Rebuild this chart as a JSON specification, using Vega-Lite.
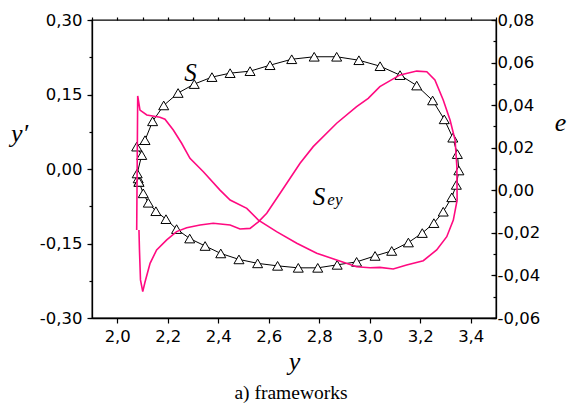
{
  "$schema": "https://vega.github.io/schema/vega-lite/v6.json",
  "width": 404,
  "height": 298,
  "autosize": "none",
  "padding": {"left": 92, "top": 20, "right": 73, "bottom": 88},
  "background": "white",
  "title": {"text": "a) frameworks", "orient": "bottom", "anchor": "middle", "font": "Liberation Serif", "fontSize": 19.5, "fontWeight": "normal", "color": "black", "offset": 10, "dx": -3},
  "config": {
    "view": {"stroke": "black", "strokeWidth": 1.3},
    "axis": {"grid": false, "domainColor": "black", "tickColor": "black", "labelColor": "black", "titleColor": "black", "labelFont": "DejaVu Sans", "labelFontSize": 16.5, "tickWidth": 1.2, "domainWidth": 1.3, "labelFlush": false, "labelOverlap": false, "titleFont": "Liberation Serif", "titleFontStyle": "italic", "titleFontWeight": "normal", "titleFontSize": 26}
  },
  "datasets": {
    "S": [
      {"i": 1, "x": 2.086, "y": -0.026}, {"i": 2, "x": 2.083, "y": -0.019}, {"i": 3, "x": 2.079, "y": -0.009},
      {"i": 4, "x": 2.097, "y": 0.028}, {"i": 5, "x": 2.077, "y": 0.045}, {"i": 6, "x": 2.110, "y": 0.058},
      {"i": 7, "x": 2.140, "y": 0.096}, {"i": 8, "x": 2.184, "y": 0.128}, {"i": 9, "x": 2.241, "y": 0.153},
      {"i": 10, "x": 2.305, "y": 0.171}, {"i": 11, "x": 2.375, "y": 0.185}, {"i": 12, "x": 2.447, "y": 0.193},
      {"i": 13, "x": 2.526, "y": 0.197}, {"i": 14, "x": 2.605, "y": 0.209}, {"i": 15, "x": 2.691, "y": 0.221},
      {"i": 16, "x": 2.780, "y": 0.226}, {"i": 17, "x": 2.869, "y": 0.226}, {"i": 18, "x": 2.957, "y": 0.219},
      {"i": 19, "x": 3.041, "y": 0.207}, {"i": 20, "x": 3.120, "y": 0.189}, {"i": 21, "x": 3.186, "y": 0.168},
      {"i": 22, "x": 3.249, "y": 0.138}, {"i": 23, "x": 3.295, "y": 0.100}, {"i": 24, "x": 3.329, "y": 0.063},
      {"i": 25, "x": 3.347, "y": 0.030}, {"i": 26, "x": 3.353, "y": -0.003}, {"i": 27, "x": 3.343, "y": -0.032},
      {"i": 28, "x": 3.325, "y": -0.057}, {"i": 29, "x": 3.291, "y": -0.086}, {"i": 30, "x": 3.254, "y": -0.109},
      {"i": 31, "x": 3.208, "y": -0.129}, {"i": 32, "x": 3.153, "y": -0.148}, {"i": 33, "x": 3.087, "y": -0.165},
      {"i": 34, "x": 3.021, "y": -0.175}, {"i": 35, "x": 2.948, "y": -0.187}, {"i": 36, "x": 2.871, "y": -0.193},
      {"i": 37, "x": 2.794, "y": -0.199}, {"i": 38, "x": 2.717, "y": -0.199}, {"i": 39, "x": 2.635, "y": -0.195},
      {"i": 40, "x": 2.556, "y": -0.190}, {"i": 41, "x": 2.482, "y": -0.182}, {"i": 42, "x": 2.410, "y": -0.170},
      {"i": 43, "x": 2.348, "y": -0.155}, {"i": 44, "x": 2.287, "y": -0.140}, {"i": 45, "x": 2.235, "y": -0.121},
      {"i": 46, "x": 2.193, "y": -0.101}, {"i": 47, "x": 2.153, "y": -0.085}, {"i": 48, "x": 2.123, "y": -0.068},
      {"i": 49, "x": 2.103, "y": -0.049}, {"i": 50, "x": 2.086, "y": -0.026}
    ],
    "E": [
      {"i": 1, "x": 2.077, "e": -0.0187}, {"i": 2, "x": 2.081, "e": 0.0443}, {"i": 3, "x": 2.090, "e": 0.0377},
      {"i": 4, "x": 2.117, "e": 0.0354}, {"i": 5, "x": 2.169, "e": 0.0343}, {"i": 6, "x": 2.189, "e": 0.0334},
      {"i": 7, "x": 2.222, "e": 0.0283}, {"i": 8, "x": 2.255, "e": 0.0221}, {"i": 9, "x": 2.288, "e": 0.0150},
      {"i": 10, "x": 2.341, "e": 0.0087}, {"i": 11, "x": 2.407, "e": 0.0001}, {"i": 12, "x": 2.447, "e": -0.0046},
      {"i": 13, "x": 2.513, "e": -0.0085}, {"i": 14, "x": 2.559, "e": -0.0140}, {"i": 15, "x": 2.631, "e": -0.0194},
      {"i": 16, "x": 2.711, "e": -0.0249}, {"i": 17, "x": 2.790, "e": -0.0296}, {"i": 18, "x": 2.869, "e": -0.0327},
      {"i": 19, "x": 2.948, "e": -0.0359}, {"i": 20, "x": 3.001, "e": -0.0364}, {"i": 21, "x": 3.040, "e": -0.0362},
      {"i": 22, "x": 3.093, "e": -0.0370}, {"i": 23, "x": 3.146, "e": -0.0351}, {"i": 24, "x": 3.212, "e": -0.0331},
      {"i": 25, "x": 3.265, "e": -0.0280}, {"i": 26, "x": 3.305, "e": -0.0218}, {"i": 27, "x": 3.331, "e": -0.0140},
      {"i": 28, "x": 3.346, "e": -0.0046}, {"i": 29, "x": 3.345, "e": 0.0111}, {"i": 30, "x": 3.338, "e": 0.0236},
      {"i": 31, "x": 3.318, "e": 0.0330}, {"i": 32, "x": 3.291, "e": 0.0424}, {"i": 33, "x": 3.258, "e": 0.0518},
      {"i": 34, "x": 3.226, "e": 0.0557}, {"i": 35, "x": 3.186, "e": 0.0560}, {"i": 36, "x": 3.120, "e": 0.0542},
      {"i": 37, "x": 3.040, "e": 0.0487}, {"i": 38, "x": 2.994, "e": 0.0432}, {"i": 39, "x": 2.948, "e": 0.0393},
      {"i": 40, "x": 2.869, "e": 0.0315}, {"i": 41, "x": 2.776, "e": 0.0205}, {"i": 42, "x": 2.724, "e": 0.0127},
      {"i": 43, "x": 2.645, "e": -0.0014}, {"i": 44, "x": 2.592, "e": -0.0108}, {"i": 45, "x": 2.559, "e": -0.0148},
      {"i": 46, "x": 2.526, "e": -0.0179}, {"i": 47, "x": 2.486, "e": -0.0182}, {"i": 48, "x": 2.447, "e": -0.0163},
      {"i": 49, "x": 2.380, "e": -0.0155}, {"i": 50, "x": 2.328, "e": -0.0163}, {"i": 51, "x": 2.275, "e": -0.0176},
      {"i": 52, "x": 2.235, "e": -0.0194}, {"i": 53, "x": 2.196, "e": -0.0233}, {"i": 54, "x": 2.156, "e": -0.0280},
      {"i": 55, "x": 2.130, "e": -0.0343}, {"i": 56, "x": 2.110, "e": -0.0431}, {"i": 57, "x": 2.101, "e": -0.0476},
      {"i": 58, "x": 2.092, "e": -0.0421}, {"i": 59, "x": 2.088, "e": -0.0280}, {"i": 60, "x": 2.086, "e": -0.0187}
    ],
    "T1": [
      {"t": "S", "x": 2.290, "y": 0.194},
      {"t": "S", "x": 2.799, "y": -0.057}
    ],
    "T2": [
      {"t": "ey", "x": 2.862, "e": -0.0044}
    ]
  },
  "layer": [
    {
      "data": {"name": "S"},
      "mark": {"type": "line", "color": "black", "strokeWidth": 1},
      "encoding": {
        "x": {"field": "x", "type": "quantitative", "scale": {"domain": [1.9, 3.5], "nice": false, "zero": false},
          "axis": {"values": [2.0, 2.2, 2.4, 2.6, 2.8, 3.0, 3.2, 3.4], "tickSize": 5, "labelPadding": 5,
            "labelExpr": "replace(format(datum.value, '.1f'), '.', ',')",
            "title": "y", "titleAngle": 0, "titleX": 202, "titleY": 51, "titleAlign": "center", "titleBaseline": "alphabetic"}},
        "y": {"field": "y", "type": "quantitative", "scale": {"domain": [-0.3, 0.3], "nice": false, "zero": false},
          "axis": {"orient": "left", "values": [-0.3, -0.15, 0, 0.15, 0.3], "tickSize": 5, "labelPadding": 5,
            "labelExpr": "(datum.value < -0.0001 ? '-' : '') + replace(format(abs(datum.value), '.2f'), '.', ',')",
            "title": "y′", "titleAngle": 0, "titleX": -73, "titleY": 121, "titleAlign": "center", "titleBaseline": "alphabetic"}},
        "order": {"field": "i", "type": "quantitative"}
      }
    },
    {
      "data": {"name": "S"},
      "mark": {"type": "point", "shape": "triangle-up", "size": 100, "filled": true, "fill": "white", "stroke": "black", "strokeWidth": 1, "opacity": 1},
      "encoding": {
        "x": {"field": "x", "type": "quantitative", "scale": {"domain": [1.9, 3.5], "nice": false, "zero": false},
          "axis": {"values": [1.9, 2.0, 2.1, 2.2, 2.3, 2.4, 2.5, 2.6, 2.7, 2.8, 2.9, 3.0, 3.1, 3.2, 3.3, 3.4, 3.5], "tickSize": 3, "labels": false, "domain": false, "title": null}},
        "y": {"field": "y", "type": "quantitative", "scale": {"domain": [-0.3, 0.3], "nice": false, "zero": false},
          "axis": {"orient": "left", "values": [-0.3, -0.225, -0.15, -0.075, 0, 0.075, 0.15, 0.225, 0.3], "tickSize": 3, "labels": false, "domain": false, "title": null}}
      }
    },
    {
      "data": {"name": "E"},
      "mark": {"type": "line", "color": "#FF0A80", "strokeWidth": 1.6},
      "encoding": {
        "x": {"field": "x", "type": "quantitative", "scale": {"domain": [1.9, 3.5], "nice": false, "zero": false}, "axis": null},
        "y": {"field": "e", "type": "quantitative", "scale": {"domain": [-0.06, 0.08], "nice": false, "zero": false},
          "axis": {"orient": "right", "values": [-0.06, -0.04, -0.02, 0, 0.02, 0.04, 0.06, 0.08], "tickSize": -5, "labelPadding": 6,
            "labelExpr": "(datum.value < -0.0001 ? '-' : '') + replace(format(abs(datum.value), '.2f'), '.', ',')",
            "title": "e", "titleAngle": 0, "titleX": 64, "titleY": 110, "titleAlign": "center", "titleBaseline": "alphabetic"}},
        "order": {"field": "i", "type": "quantitative"}
      }
    },
    {
      "data": {"name": "T1"},
      "mark": {"type": "text", "font": "Liberation Serif", "fontStyle": "italic", "fontSize": 25, "color": "black", "align": "center", "baseline": "middle"},
      "encoding": {
        "x": {"field": "x", "type": "quantitative", "scale": {"domain": [1.9, 3.5], "nice": false, "zero": false}, "axis": null},
        "y": {"field": "y", "type": "quantitative", "scale": {"domain": [-0.3, 0.3], "nice": false, "zero": false}, "axis": null},
        "text": {"field": "t"}
      }
    },
    {
      "data": {"name": "T2"},
      "mark": {"type": "text", "font": "Liberation Serif", "fontStyle": "italic", "fontSize": 17, "color": "black", "align": "center", "baseline": "middle"},
      "encoding": {
        "x": {"field": "x", "type": "quantitative", "scale": {"domain": [1.9, 3.5], "nice": false, "zero": false}, "axis": null},
        "y": {"field": "e", "type": "quantitative", "scale": {"domain": [-0.06, 0.08], "nice": false, "zero": false},
          "axis": {"orient": "right", "values": [-0.06, -0.05, -0.04, -0.03, -0.02, -0.01, 0, 0.01, 0.02, 0.03, 0.04, 0.05, 0.06, 0.07, 0.08], "tickSize": -3, "labels": false, "domain": false, "title": null}},
        "text": {"field": "t"}
      }
    }
  ],
  "resolve": {"scale": {"y": "independent"}, "axis": {"x": "independent", "y": "independent"}}
}
